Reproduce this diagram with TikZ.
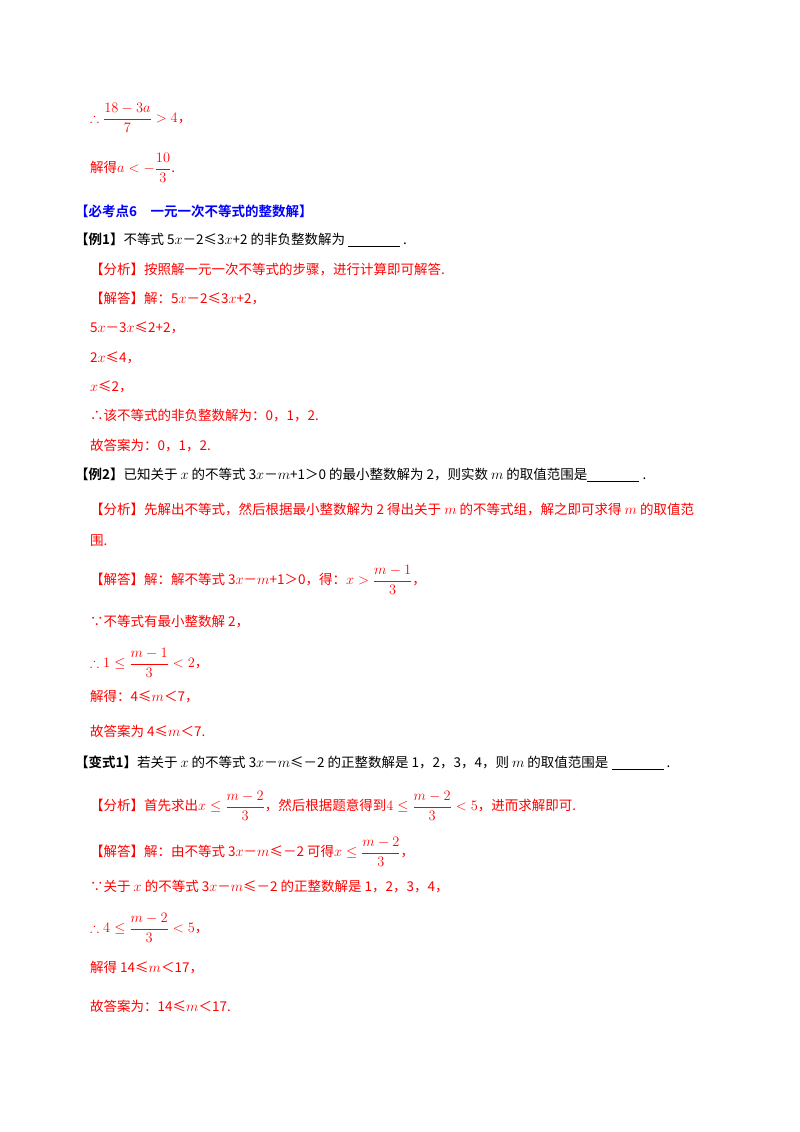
\documentclass[tikz,border=0pt]{standalone}
\usepackage{amsmath,amssymb}
\usepackage{fontspec}
\setmainfont{Liberation Serif}
\newfontfamily\cjk{Noto Sans CJK SC}
\newfontfamily\cjkb{Noto Sans CJK SC Bold}
\definecolor{myred}{RGB}{255,0,0}
\definecolor{myblue}{RGB}{0,0,255}
\newcommand{\blank}{\underline{\hspace{52pt}}}
\begin{document}
\begin{tikzpicture}[x=1pt,y=-1pt,
  r/.style={anchor=west,inner sep=0,text=myred,font=\fontsize{13.5}{16}\selectfont\cjk},
  k/.style={anchor=west,inner sep=0,text=black,font=\fontsize{13.5}{16}\selectfont\cjk},
  h/.style={anchor=west,inner sep=0,text=myblue,font=\fontsize{13.5}{16}\selectfont\cjkb}]
\useasboundingbox (0,0) rectangle (800,1132);
\node[r] (a1) at (90,118) {$\therefore\dfrac{18-3a}{7}>4$，};
\node[r] (a2) at (90,168) {解得$a<-\dfrac{10}{3}$.};
\node[h] (h) at (75,211) {【必考点6\quad 一元一次不等式的整数解】};
\node[k] (e1) at (75,240) {{\cjkb【例1】}不等式 5$x$－2≤3$x$+2 的非负整数解为 \blank\ .};
\node[r] (e1a) at (90,270) {【分析】按照解一元一次不等式的步骤，进行计算即可解答.};
\node[r] (e1b) at (90,299) {【解答】解：5$x$－2≤3$x$+2，};
\node[r] (e1c) at (90,328) {5$x$－3$x$≤2+2，};
\node[r] (e1d) at (90,358) {2$x$≤4，};
\node[r] (e1e) at (90,387) {$x$≤2，};
\node[r] (e1f) at (90,416) {∴该不等式的非负整数解为：0，1，2.};
\node[r] (e1g) at (90,446) {故答案为：0，1，2.};
\node[k] (e2) at (75,475) {{\cjkb【例2】}已知关于 $x$ 的不等式 3$x$－$m$+1＞0 的最小整数解为 2，则实数 $m$ 的取值范围是\blank\ .};
\node[r] (e2a) at (90,509) {【分析】先解出不等式，然后根据最小整数解为 2 得出关于 $m$ 的不等式组，解之即可求得 $m$ 的取值范};
\node[r] (e2a2) at (90,541) {围.};
\node[r] (e2b) at (90,580) {【解答】解：解不等式 3$x$－$m$+1＞0，得：$x>\dfrac{m-1}{3}$，};
\node[r] (e2c) at (90,622) {∵不等式有最小整数解 2，};
\node[r] (e2d) at (90,663) {$\therefore 1\le\dfrac{m-1}{3}<2$，};
\node[r] (e2e) at (90,697) {解得：4≤$m$＜7，};
\node[r] (e2f) at (90,731) {故答案为 4≤$m$＜7.};
\node[k] (e3) at (75,763) {{\cjkb【变式1】}若关于 $x$ 的不等式 3$x$－$m$≤－2 的正整数解是 1，2，3，4，则 $m$ 的取值范围是 \blank\ .};
\node[r] (e3a) at (90,806) {【分析】首先求出$x\le\dfrac{m-2}{3}$，然后根据题意得到$4\le\dfrac{m-2}{3}<5$，进而求解即可.};
\node[r] (e3b) at (90,852) {【解答】解：由不等式 3$x$－$m$≤－2 可得$x\le\dfrac{m-2}{3}$，};
\node[r] (e3c) at (90,887) {∵关于 $x$ 的不等式 3$x$－$m$≤－2 的正整数解是 1，2，3，4，};
\node[r] (e3d) at (90,928) {$\therefore 4\le\dfrac{m-2}{3}<5$，};
\node[r] (e3e) at (90,968) {解得 14≤$m$＜17，};
\node[r] (e3f) at (90,1006) {故答案为：14≤$m$＜17.};
\end{tikzpicture}
\end{document}
